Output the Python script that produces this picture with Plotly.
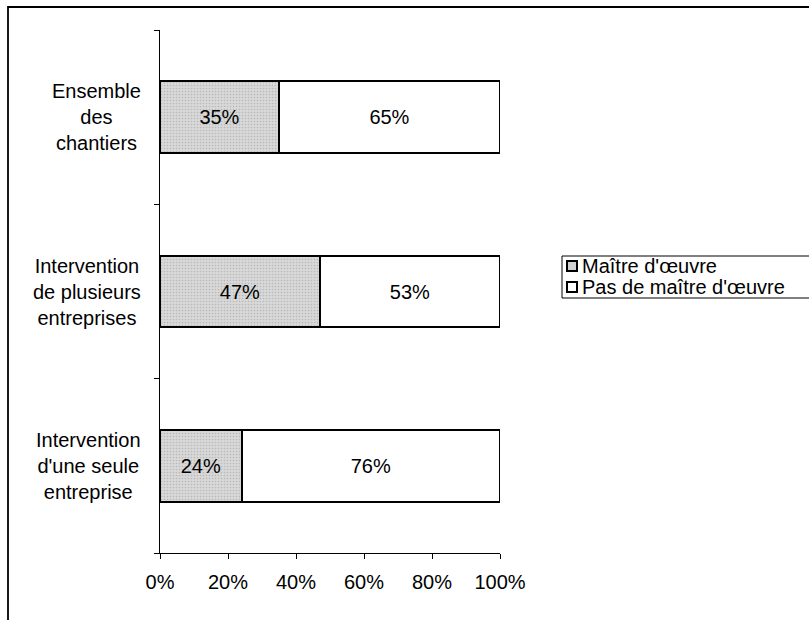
import plotly.graph_objects as go

# Categories (top to bottom as displayed)
categories = ["Ensemble des chantiers",
              "Intervention de plusieurs entreprises",
              "Intervention d'une seule entreprise"]
label_lines = [["Ensemble", "des", "chantiers"],
               ["Intervention", "de plusieurs", "entreprises"],
               ["Intervention", "d'une seule", "entreprise"]]
series_names = ["Maître d'œuvre", "Pas de maître d'œuvre"]
maitre = [35, 47, 24]
pas_maitre = [65, 53, 76]
x_ticks = [0, 20, 40, 60, 80, 100]

FONT = "Liberation Sans, Arial, sans-serif"
FS = 20
GRAY = "#d0d0d0"

W, H = 809, 620
M_L, M_R, M_T, M_B = 160, 309, 30, 67
PW, PH = W - M_L - M_R, H - M_T - M_B


def px(x):
    """Pixel column -> paper x."""
    return (x - M_L) / PW


def py(y):
    """Pixel row -> paper y."""
    return (H - M_B - y) / PH


fig = go.Figure()
fig.add_trace(go.Bar(
    y=categories, x=maitre, orientation="h", name=series_names[0],
    width=0.41,
    marker=dict(color=GRAY, line=dict(color="black", width=2),
                pattern=dict(shape=".", fgcolor="#9a9a9a", bgcolor="#d8d8d8",
                             size=3, solidity=0.25)),
    text=[f"{v}%" for v in maitre], textposition="inside",
    insidetextanchor="middle", textangle=0,
    textfont=dict(family=FONT, size=FS, color="black"),
    hoverinfo="skip",
))
fig.add_trace(go.Bar(
    y=categories, x=pas_maitre, orientation="h", name=series_names[1],
    width=0.41,
    marker=dict(color="white", line=dict(color="black", width=2)),
    text=[f"{v}%" for v in pas_maitre], textposition="inside",
    insidetextanchor="middle", textangle=0,
    textfont=dict(family=FONT, size=FS, color="black"),
    hoverinfo="skip",
))

# Multi-line, centred category labels, right-aligned against the axis
for cat, lines in zip(categories, label_lines):
    fig.add_annotation(
        x=px(143), xref="paper", y=cat, yref="y",
        text="<br>".join(lines), showarrow=False,
        xanchor="right", yanchor="middle", align="center",
        font=dict(family=FONT, size=FS, color="black"),
    )

# Outer frame (runs off the right and bottom edges)
fig.add_shape(type="rect", xref="paper", yref="paper",
              x0=px(8), x1=px(830), y0=py(640), y1=py(7),
              line=dict(color="black", width=1.8), fillcolor="rgba(0,0,0,0)")

# Legend box
fig.add_shape(type="rect", xref="paper", yref="paper",
              x0=px(562), x1=px(830), y0=py(298), y1=py(256),
              line=dict(color="black", width=1), fillcolor="white")
legend_fills = [GRAY, "white"]
legend_rows = [266, 287]
for name, fill, row in zip(series_names, legend_fills, legend_rows):
    fig.add_shape(type="rect", xref="paper", yref="paper",
                  x0=px(567), x1=px(577), y0=py(row + 5), y1=py(row - 5),
                  line=dict(color="black", width=2), fillcolor=fill)
    fig.add_annotation(x=px(580), xref="paper", y=py(row), yref="paper",
                       text=name, showarrow=False, xanchor="left",
                       yanchor="middle",
                       font=dict(family=FONT, size=FS, color="black"))

fig.update_layout(
    width=W, height=H,
    margin=dict(l=M_L, r=M_R, t=M_T, b=M_B, autoexpand=False),
    barmode="stack",
    plot_bgcolor="white", paper_bgcolor="white",
    font=dict(family=FONT, size=FS, color="black"),
    showlegend=False,
    xaxis=dict(range=[0, 100], tickvals=x_ticks,
               ticktext=[f"{v}%" for v in x_ticks],
               showgrid=False, zeroline=False, showline=True,
               linecolor="black", linewidth=1, ticks="outside",
               ticklen=5, tickcolor="black", ticklabelstandoff=6,
               fixedrange=True),
    yaxis=dict(categoryorder="array", categoryarray=categories[::-1],
               range=[-0.5, 2.5], showticklabels=False,
               tickson="boundaries", ticks="outside", ticklen=5,
               tickcolor="black", showgrid=False, zeroline=False,
               showline=True, linecolor="black", linewidth=1,
               fixedrange=True),
)

fig.write_html("out.html")
